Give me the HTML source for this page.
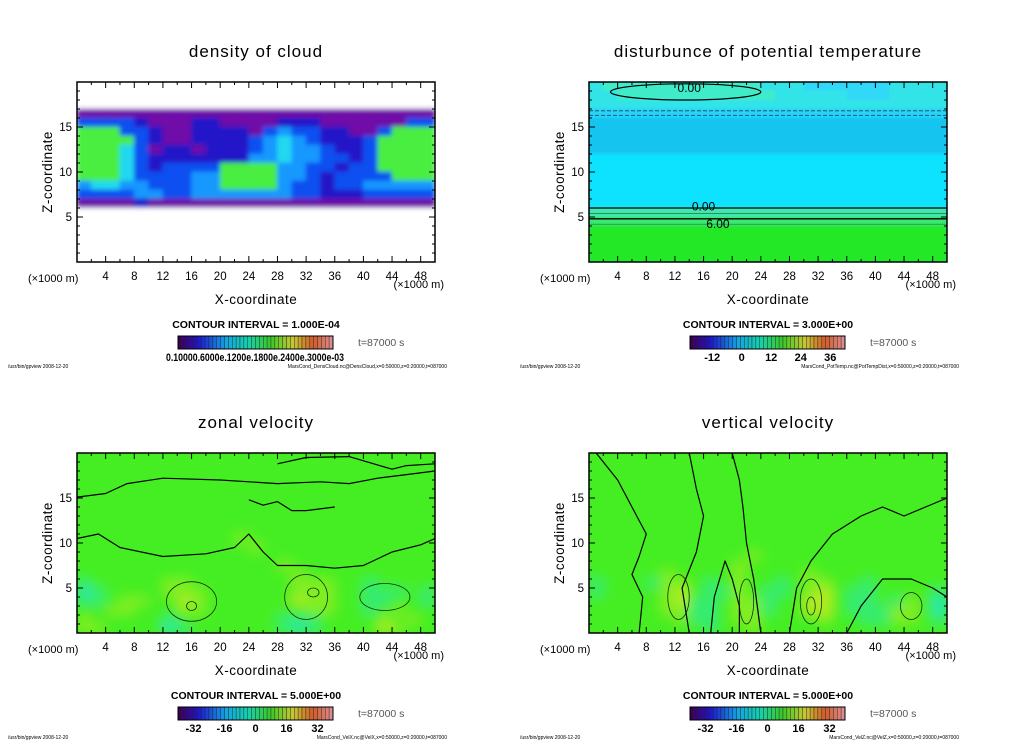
<!DOCTYPE html>
<html><head><meta charset="utf-8">
<style>
html,body{margin:0;padding:0;background:#fff;}
svg{display:block;font-family:"Liberation Sans","DejaVu Sans",sans-serif;}
</style></head>
<body>
<svg id="root" width="1024" height="740" viewBox="0 0 1024 740" xmlns="http://www.w3.org/2000/svg">
<defs>
<filter id="blur1" x="0" y="0" width="1" height="1"><feGaussianBlur stdDeviation="2.5" edgeMode="duplicate"/></filter>
<filter id="blur2" x="0" y="0" width="1" height="1"><feGaussianBlur stdDeviation="1.2" edgeMode="duplicate"/></filter>
<filter id="blur3" x="0" y="0" width="1" height="1"><feGaussianBlur stdDeviation="6" edgeMode="duplicate"/></filter>
</defs>
</svg>
<script>
// ---- data (grid rows listed top z=19..20 down to z=0..1, 25 columns of 2 km each)
const xTicks = [4,8,12,16,20,24,28,32,36,40,44,48];
const yTicks = [5,10,15];
const titles = ["density of cloud","disturbunce of potential temperature","zonal velocity","vertical velocity"];
const intervals = ["CONTOUR INTERVAL = 1.000E-04","CONTOUR INTERVAL = 3.000E+00","CONTOUR INTERVAL = 5.000E+00","CONTOUR INTERVAL = 5.000E+00"];
const cbLabels = [["0.10000.6000e.1200e.1800e.2400e.3000e-03"],["-12","0","12","24","36"],["-32","-16","0","16","32"],["-32","-16","0","16","32"]];
const cbValues = [[0],[-12,0,12,24,36],[-32,-16,0,16,32],[-32,-16,0,16,32]];
const footers = ["MarsCond_DensCloud.nc@DensCloud,x=0:50000,z=0:20000,t=087000","MarsCond_PotTemp.nc@PotTempDist,x=0:50000,z=0:20000,t=087000","MarsCond_VelX.nc@VelX,x=0:50000,z=0:20000,t=087000","MarsCond_VelZ.nc@VelZ,x=0:50000,z=0:20000,t=087000"];
const grid1 = [
"0000000000000000000000000",
"0000000000000000000000000",
"0000000000000000000000000",
"1111111111111111111111111",
"3333211122111122211111133",
"6663321122221343322113666",
"6666321122223454322236666",
"6665312212223454432236666",
"6665322222224454433236666",
"6665323333666644332336666",
"6665333344666644323333666",
"4554433344666643323344444",
"3333443344444443322233333",
"1111211111111111111111111",
"0000000000000000000000000",
"0000000000000000000000000",
"0000000000000000000000000",
"0000000000000000000000000",
"0000000000000000000000000",
"0000000000000000000000000"];
const grid2 = [
"TUUUUUUUUUUUTTTLLLLLLTTTT",
"TTUUUUUUUUUUUTTTTTLLLTTTT",
"TTTTTTTTTTTTTTTTTTTTTTTTT",
"BBBBBBBBBBBBBBBBBBBBBBBBB",
"MMMMMMMMMMMMMMMMMMMMMMMMM",
"MMMMMMMMMMMMMMMMMMMMMMMMM",
"MMMMMMMMMMMMMMMMMMMMMMMMM",
"MMMMMMMMMMMMMMMMMMMMMMMMM",
"KKKKKKKKKKKKKKKKKKKKKKKKK",
"KKKKKKKKKKKKKKKKKKKKKKKKK",
"KKKKKKKKKKKKKKKKKKKKKKKKK",
"KKKKKKKKKKKKKKKKKKKKKKKKK",
"KKKKKKKKKKKKKKKKKKKKKKKKK",
"KKKKKKKKKKKKKKKKKKKKKKKKK",
"sssssssssssssssssssssssss",
"vvvvvvvvvvvvvvvvvvvvvvvvv",
"GGGGGGGGGGGGGGGGGGGGGGGGG",
"GGGGGGGGGGGGGGGGGGGGGGGGG",
"GGGGGGGGGGGGGGGGGGGGGGGGG",
"GGGGGGGGGGGGGGGGGGGGGGGGG"];
const grid3 = [
"ggggggggggggggggggggggggg",
"ggggggggggggggggggggggggg",
"ggggggggggggggggggggggggg",
"ggggggggggggggggggggggggg",
"ggggggggggggggggggggggggg",
"ggggggggggggggggggggggggg",
"ggggggggggggggggggggggggg",
"ggggggggggggggggggggggggg",
"ggggggggggggggggggggggggg",
"gggggggggggyggggggggggggg",
"ggggggggggggygggggggggggg",
"ggggggggggggggggggggggggg",
"ggggggggggggggygggggggggg",
"gggggggggggggggyggggggggg",
"cgggggyygggggggyyyggcgggg",
"Ccggggyyyggggggyyyggcccgc",
"ccgyyggYyggggggYyyggccggc",
"ggyygggyygggggggyyggcgygg",
"ygggggcgggggggcccggggygyg",
"yyggggCcggggggcCcggggYygg"];
const grid4 = [
"ggggggggggggggggggggggggg",
"ggggggggggggggggggggggggg",
"ggggggggggggggggggggggggg",
"ggggggggggggggggggggggggg",
"ggggggggggggggggggggggggg",
"ggggggggggggggggggggggggg",
"ggggggggggggggggggggggggg",
"ggggggggggggggggggggggggg",
"ggggggggggggggggggggggggg",
"ggggggggggggggggggggggggg",
"ggggggggggggggggggggggggg",
"gggggggggggyggggggggggggg",
"ggggggggggygggggggggggggg",
"gggggyggggyggggyggggggggg",
"cgggcyygcgyggcgyyggcggggg",
"cggggyYgccygccgyYgccggggc",
"gggggyYccgyycggYYgccgcygC",
"gggggyyccgyycggYYgcccyygC",
"ggggggyccgyyggggyggccyygc",
"ggggggggcggyggggggggggggg"];
const cloudColors = {"0":"#ffffff","1":"#7010a8","2":"#2418c8","3":"#1050f0","4":"#1898ff","5":"#20d8f0","6":"#48ee40"};
const ptColors = {"T":"#30e4e8","U":"#40ecc8","L":"#30d8f8","B":"#28d4f8","M":"#18c4f0","K":"#10e2ff","s":"#40e8b0","v":"#38e870","G":"#20e828"};
const velColors = {"g":"#44ee22","y":"#80ee22","Y":"#b4ea20","c":"#34ec70","C":"#20e8b4"};
// panel 2 contour levels (z in km)
const ptSolidLevels = [6.0, 4.8];
const ptThinLevels = [5.4, 4.2];
const ptDashLevels = [16.8, 16.3];
// panel 3/4 contour blobs [x, z, rx, rz]
const velBlobs3 = [[16,3.5,3.5,2.2],[32,4,3,2.5],[43,4,3.5,1.5],[33,4.5,0.8,0.5],[16,3,0.7,0.5]];
const velBlobs4 = [[12.5,4,1.5,2.5],[22,3.5,1,2.5],[31,3.5,1.5,2.5],[31,3,0.6,1],[45,3,1.5,1.5]];
// panel 3/4 contour polylines [x, z] in data units
const velLines3 = [
 [[0,15.1],[4,15.5],[7,16.6],[12,17.2],[20,17.0],[28,16.6],[34,16.8],[38,16.6],[42,17.2],[46,17.6],[50,18]],
 [[28,18.8],[32,19.5],[38,19.6],[44,18.2],[46,18.6],[50,18.8]],
 [[0,10.5],[3,11],[6,9.5],[12,8.5],[18,8.8],[22,9.5],[24,11],[26,9],[28,7.5],[32,7.5],[36,7.2],[40,7.5],[44,9],[48,9.8],[50,10.5]],
 [[24,14.8],[26,14.2],[28,14.6],[30,13.6],[32,13.6],[36,14]]];
const velLines4 = [
 [[7,0],[7.5,4],[6,6.5],[7,8.5],[8,11],[6,14],[4,17],[2,19],[1,20]],
 [[14,0],[13,5],[15,9],[16,13],[15,16],[14,20]],
 [[24,0],[23,6],[22,10],[21.5,14],[21,17],[20,20]],
 [[28,0],[29,5],[31,8],[34,11],[38,13],[41,14],[44,13],[47,14],[50,15]],
 [[36,0],[38,3],[41,6],[45,6],[48,5],[50,4]],
 [[17,0],[17.5,4],[19,8],[20,6],[21,3],[21,0]]];

const NS="http://www.w3.org/2000/svg";
const root=document.getElementById('root');
function mk(tag,attrs,parent){const e=document.createElementNS(NS,tag);for(const k in attrs)e.setAttribute(k,attrs[k]);(parent||root).appendChild(e);return e;}
const W=358,H=180;
const offs=[[77,82],[589,82],[77,453],[589,453]];
const grids=[grid1,grid2,grid3,grid4];
const pals=[cloudColors,ptColors,velColors,velColors];
const filters=["blur1","blur2","blur3","blur3"];
const names=["cloud-density","potential-temperature","zonal-velocity","vertical-velocity"];

function rainbow(t){
  const stops=[[0,[60,0,90]],[0.12,[30,20,200]],[0.3,[20,160,230]],[0.45,[20,210,170]],[0.6,[60,200,40]],[0.75,[200,200,50]],[0.88,[210,90,40]],[1,[220,140,140]]];
  for(let i=1;i<stops.length;i++){if(t<=stops[i][0]){const a=stops[i-1],b=stops[i];const f=(t-a[0])/(b[0]-a[0]);return 'rgb('+a[1].map((v,j)=>Math.round(v+(b[1][j]-v)*f)).join(',')+')';}}
  return 'rgb(220,140,140)';
}

for(let p=0;p<4;p++){
  const [ox,oy]=offs[p];
  const sx=x=>ox+x/50*W, sz=z=>oy+H-z/20*H;
  const g=mk('g',{},root);
  
  
  const t=mk('text',{x:ox+179,y:oy-25,'text-anchor':'middle','font-size':17,'letter-spacing':'1'},g);
  t.textContent=titles[p];
  
  
  const cp=mk('clipPath',{id:'cp'+p},g);mk('rect',{x:ox,y:oy,width:W,height:H},cp);
  const plot=mk('g',{'clip-path':'url(#cp'+p+')'},g);
  
  
  const base=p===0?'#ffffff':(p===1?'#10e2ff':'#44ee22');
  mk('rect',{x:ox,y:oy,width:W,height:H,fill:base},plot);
  const fg=mk('g',{filter:'url(#'+filters[p]+')'},plot);
  const grid=grids[p],pal=pals[p];
  for(let r=0;r<grid.length;r++){
    const z1=20-r, z0=19-r;
    for(let c=0;c<25;c++){
      const ch=grid[r][c]||grid[r][grid[r].length-1];
      const cell=mk('rect',{x:sx(c*2)-0.3,y:sz(z1)-0.3,width:sx(c*2+2)-sx(c*2)+0.6,height:sz(z0)-sz(z1)+0.6,fill:pal[ch]||base},fg);
      
      
    }
  }
  if(p===1){
    ptSolidLevels.forEach(z=>{const l=mk('line',{x1:ox,x2:ox+W,y1:sz(z),y2:sz(z),stroke:'#000','stroke-width':1.3},plot);});
    ptThinLevels.forEach(z=>{const l=mk('line',{x1:ox,x2:ox+W,y1:sz(z),y2:sz(z),stroke:'#207040','stroke-width':0.7},plot);});
    ptDashLevels.forEach(z=>{const l=mk('line',{x1:ox,x2:ox+W,y1:sz(z),y2:sz(z),stroke:'#204060','stroke-width':0.8,'stroke-dasharray':'4,2'},plot);});
    const e=mk('ellipse',{cx:sx(13.5),cy:sz(18.9),rx:sx(10.5)-sx(0),ry:sz(18)-sz(18.9),fill:'none',stroke:'#000','stroke-width':1.2},plot);
    
    const l1=mk('text',{x:sx(16),y:sz(5.7),'font-size':12,'text-anchor':'middle'},plot);l1.textContent='0.00';
    
    const l2=mk('text',{x:sx(18),y:sz(3.8),'font-size':12,'text-anchor':'middle'},plot);l2.textContent='6.00';
    
    const l3=mk('text',{x:sx(14),y:sz(18.9),'font-size':12,'text-anchor':'middle'},plot);l3.textContent='0.00';
    
  }
  if(p>=2){
    const blobs=p===2?velBlobs3:velBlobs4;
    blobs.forEach(b=>{const e=mk('ellipse',{cx:sx(b[0]),cy:sz(b[1]),rx:sx(b[2])-sx(0),ry:sz(0)-sz(b[3]),fill:'none',stroke:'#103010','stroke-width':0.8},plot);});
    const lines=p===2?velLines3:velLines4;
    lines.forEach(ln=>{const pl=mk('polyline',{points:ln.map(q=>sx(q[0])+','+sz(q[1])).join(' '),fill:'none',stroke:'#000','stroke-width':1.2,'stroke-linejoin':'round'},plot);});
  }
  // frame
  const fr=mk('rect',{x:ox,y:oy,width:W,height:H,fill:'none',stroke:'#000','stroke-width':1.5},g);
  
  for(let x=2;x<50;x+=2){const L=(x%4===0)?6:3;
    mk('line',{x1:sx(x),x2:sx(x),y1:oy+H,y2:oy+H-L,stroke:'#000','stroke-width':1},g);
    mk('line',{x1:sx(x),x2:sx(x),y1:oy,y2:oy+L,stroke:'#000','stroke-width':1},g);}
  for(let z=1;z<20;z++){const L=(z%5===0)?6:3;
    mk('line',{x1:ox,x2:ox+L,y1:sz(z),y2:sz(z),stroke:'#000','stroke-width':1},g);
    mk('line',{x1:ox+W,x2:ox+W-L,y1:sz(z),y2:sz(z),stroke:'#000','stroke-width':1},g);}
  xTicks.forEach(v=>{const tt=mk('text',{x:sx(v),y:oy+H+18,'font-size':11.5,'text-anchor':'middle'},g);tt.textContent=v;});
  yTicks.forEach(v=>{const tt=mk('text',{x:ox-5,y:sz(v)+4,'font-size':11.5,'text-anchor':'end'},g);tt.textContent=v;});
  const u1=mk('text',{x:ox-49,y:oy+H+20,'font-size':11},g);u1.textContent='(×1000 m)';
  const u2=mk('text',{x:ox+W+9,y:oy+H+26,'font-size':11,'text-anchor':'end'},g);u2.textContent='(×1000 m)';
  const xl=mk('text',{x:ox+179,y:oy+H+42,'font-size':13.5,'text-anchor':'middle','letter-spacing':'0.5'},g);xl.textContent='X-coordinate';
  const yl=mk('text',{x:0,y:0,'font-size':13.5,'text-anchor':'middle','letter-spacing':'0.5',transform:'translate('+(ox-25)+','+(oy+90)+') rotate(-90)'},g);yl.textContent='Z-coordinate';
  const ci=mk('text',{x:ox+179,y:oy+H+66,'font-size':10.5,'text-anchor':'middle','font-weight':'bold'},g);ci.textContent=intervals[p];
  // colorbar
  const cbx=ox+101,cby=oy+H+74,cbw=155,cbh=13,n=40;
  const cb=mk('g',{},g);
  for(let i=0;i<n;i++){mk('rect',{x:cbx+i*cbw/n,y:cby,width:cbw/n,height:cbh,fill:rainbow(i/(n-1)),stroke:'#222','stroke-width':0.4},cb);}
  mk('rect',{x:cbx,y:cby,width:cbw,height:cbh,fill:'none',stroke:'#000','stroke-width':1},cb);
  const tl=mk('text',{x:ox+281,y:cby+10,'font-size':10.5,fill:'#555'},g);tl.textContent='t=87000 s';
  if(p===0){const c0=mk('text',{x:cbx+77,y:cby+25,'font-size':11,'text-anchor':'middle','font-weight':'bold',textLength:178,lengthAdjust:'spacingAndGlyphs'},g);c0.textContent=cbLabels[0][0];}
  else{const vs=cbValues[p],lo=p===1?-21:-40,hi=p===1?42:40;
    vs.forEach((v,i)=>{const c0=mk('text',{x:cbx+(v-lo)/(hi-lo)*cbw,y:cby+25,'font-size':11,'text-anchor':'middle','font-weight':'bold'},g);c0.textContent=cbLabels[p][i];});}
  const f1=mk('text',{x:ox-69,y:oy+H+106,'font-size':5},g);f1.textContent='/usr/bin/gpview   2008-12-20';
  const f2=mk('text',{x:ox+W+12,y:oy+H+106,'font-size':5,'text-anchor':'end'},g);f2.textContent=footers[p];
}
</script>
</body></html>
